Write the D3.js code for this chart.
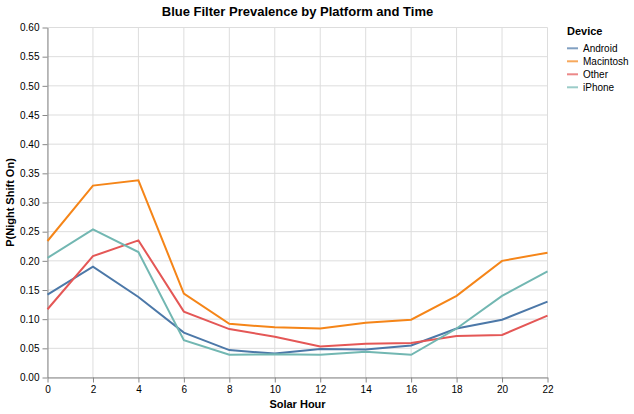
<!DOCTYPE html>
<html>
<head>
<meta charset="utf-8">
<script src="https://cdn.jsdelivr.net/npm/d3@7"></script>
<style>
  body { margin: 0; background: #fff; }
  text { font-family: "Liberation Sans", Arial, Helvetica, sans-serif; }
</style>
</head>
<body>
<div id="chartContainer"></div>
<script>
const hours = [0, 2, 4, 6, 8, 10, 12, 14, 16, 18, 20, 22];
const devices = ['Android', 'Macintosh', 'Other', 'iPhone'];
const android = [0.142, 0.190, 0.138, 0.077, 0.047, 0.041, 0.049, 0.048, 0.055, 0.084, 0.099, 0.130];
const macintosh = [0.234, 0.329, 0.338, 0.144, 0.092, 0.086, 0.084, 0.094, 0.099, 0.140, 0.200, 0.214];
const other = [0.117, 0.208, 0.235, 0.113, 0.083, 0.070, 0.053, 0.058, 0.059, 0.071, 0.073, 0.106];
const iphone = [0.205, 0.254, 0.215, 0.064, 0.039, 0.040, 0.039, 0.044, 0.039, 0.084, 0.140, 0.182];
const yTicks = [0, 0.05, 0.1, 0.15, 0.2, 0.25, 0.3, 0.35, 0.4, 0.45, 0.5, 0.55, 0.6];

const seriesValues = [android, macintosh, other, iphone];
const series = devices.map((name, i) => ({
    name: name,
    values: hours.map((h, j) => ({ hour: h, value: seriesValues[i][j] }))
}));

const width = 634;
const height = 414;
const margin = { top: 27.5, left: 47.5 };
const plotW = 500;
const plotH = 350;

const svg = d3.select('#chartContainer')
    .append('svg')
    .attr('width', width)
    .attr('height', height);

const scaleX = d3.scaleLinear()
    .domain([0, 22])
    .range([margin.left, margin.left + plotW]);

const scaleY = d3.scaleLinear()
    .domain([0, 0.6])
    .range([margin.top + plotH, margin.top]);

const color = d3.scaleOrdinal()
    .domain(devices)
    .range(['#4c78a8', '#f58518', '#e45756', '#72b7b2']);

// grid
const grid = svg.append('g').attr('class', 'grid');
grid.selectAll('line.gx')
    .data(hours)
    .enter()
    .append('line')
    .attr('x1', d => scaleX(d))
    .attr('x2', d => scaleX(d))
    .attr('y1', margin.top)
    .attr('y2', margin.top + plotH)
    .attr('stroke', '#ddd');
grid.selectAll('line.gy')
    .data(yTicks)
    .enter()
    .append('line')
    .attr('x1', margin.left)
    .attr('x2', margin.left + plotW)
    .attr('y1', d => scaleY(d))
    .attr('y2', d => scaleY(d))
    .attr('stroke', '#ddd');

// axes
const xAxis = svg.append('g')
    .attr('transform', `translate(0, ${margin.top + plotH})`)
    .call(d3.axisBottom(scaleX).tickValues(hours).tickSize(5).tickPadding(3).tickSizeOuter(0));

const yAxis = svg.append('g')
    .attr('transform', `translate(${margin.left}, 0)`)
    .call(d3.axisLeft(scaleY).tickValues(yTicks).tickFormat(d3.format('.2f')).tickSize(5).tickPadding(3).tickSizeOuter(0));

[xAxis, yAxis].forEach(a => {
    a.select('.domain').attr('stroke', '#888');
    a.selectAll('.tick line').attr('stroke', '#888');
    a.selectAll('.tick text')
        .attr('fill', '#000')
        .style('font-size', '10px')
        .style('font-family', '"Liberation Sans", Arial, sans-serif');
});

// lines
const lineMaker = d3.line()
    .x(d => scaleX(d.hour))
    .y(d => scaleY(d.value));

svg.append('g')
    .selectAll('path')
    .data(series)
    .enter()
    .append('path')
    .attr('d', d => lineMaker(d.values))
    .attr('fill', 'none')
    .attr('stroke', d => color(d.name))
    .attr('stroke-width', 2);

// titles
svg.append('text')
    .attr('x', margin.left + plotW / 2)
    .attr('y', 16)
    .attr('text-anchor', 'middle')
    .style('font-size', '13px')
    .style('font-weight', 'bold')
    .text('Blue Filter Prevalence by Platform and Time');

svg.append('text')
    .attr('x', margin.left + plotW / 2)
    .attr('y', 408)
    .attr('text-anchor', 'middle')
    .style('font-size', '11px')
    .style('font-weight', 'bold')
    .text('Solar Hour');

svg.append('text')
    .attr('transform', `translate(14, ${margin.top + plotH / 2}) rotate(-90)`)
    .attr('text-anchor', 'middle')
    .style('font-size', '11px')
    .style('font-weight', 'bold')
    .text('P(Night Shift On)');

// legend
const legend = svg.append('g').attr('transform', 'translate(567, 0)');
legend.append('text')
    .attr('x', 0)
    .attr('y', 35)
    .style('font-size', '11px')
    .style('font-weight', 'bold')
    .text('Device');

const entry = legend.selectAll('g.entry')
    .data(devices)
    .enter()
    .append('g')
    .attr('transform', (d, i) => `translate(0, ${48.3 + i * 13})`);

entry.append('line')
    .attr('x1', 0)
    .attr('x2', 11)
    .attr('stroke', d => color(d))
    .attr('stroke-width', 2)
    .attr('opacity', 0.7);

entry.append('text')
    .attr('x', 16)
    .attr('y', 3.5)
    .style('font-size', '10px')
    .text(d => d);
</script>
</body>
</html>
